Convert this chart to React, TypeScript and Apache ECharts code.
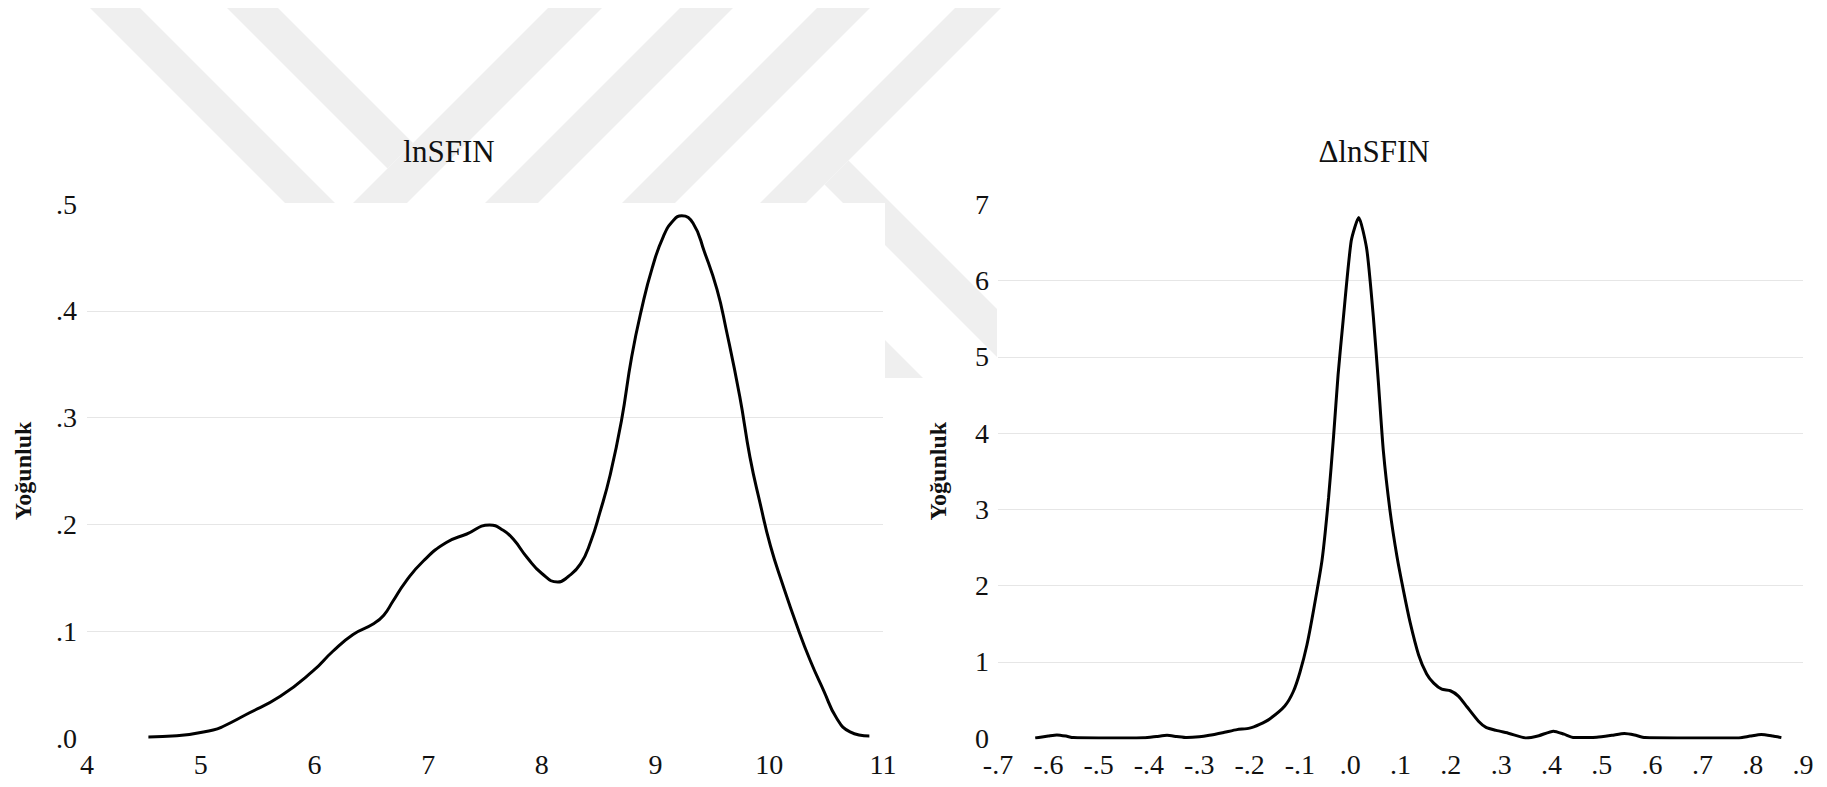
import React, { useEffect, useRef } from "react";
import * as echarts from "echarts";

// lnSFIN kernel density (x, density)
const lnX = [4.54, 4.79, 5.11, 5.2, 5.4, 5.7, 5.99, 6.16, 6.34, 6.52, 6.61, 6.69, 6.8, 6.96, 7.16, 7.34, 7.54, 7.66, 7.75, 7.87, 8.0, 8.14, 8.23, 8.34, 8.43, 8.51, 8.6, 8.7, 8.79, 8.88, 8.97, 9.07, 9.16, 9.23, 9.33, 9.43, 9.54, 9.62, 9.74, 9.83, 9.92, 10.01, 10.12, 10.24, 10.36, 10.48, 10.59, 10.71, 10.88];
const lnY = [0.001, 0.002, 0.0075, 0.011, 0.022, 0.039, 0.063, 0.081, 0.097, 0.107, 0.115, 0.128, 0.146, 0.166, 0.183, 0.191, 0.1995, 0.1945, 0.186, 0.169, 0.154, 0.146, 0.151, 0.163, 0.184, 0.211, 0.246, 0.297, 0.357, 0.403, 0.44, 0.47, 0.485, 0.489, 0.482, 0.455, 0.42, 0.383, 0.32, 0.263, 0.2195, 0.18, 0.143, 0.106, 0.0726, 0.044, 0.019, 0.0057, 0.0018];

// ΔlnSFIN kernel density (x, density)
const dlnX = [-0.626, -0.6, -0.583, -0.565, -0.55, -0.5, -0.45, -0.41, -0.385, -0.364, -0.345, -0.325, -0.3, -0.28, -0.25, -0.225, -0.2, -0.18, -0.16, -0.13, -0.113, -0.1, -0.086, -0.073, -0.056, -0.043, -0.033, -0.024, -0.014, 0.002, 0.017, 0.033, 0.046, 0.056, 0.066, 0.079, 0.093, 0.106, 0.119, 0.136, 0.152, 0.166, 0.182, 0.199, 0.215, 0.232, 0.255, 0.27, 0.29, 0.316, 0.35, 0.375, 0.404, 0.425, 0.445, 0.49, 0.52, 0.545, 0.565, 0.586, 0.65, 0.77, 0.795, 0.817, 0.84, 0.857];
const dlnY = [0, 0.025, 0.04, 0.025, 0.005, 0, 0, 0.003, 0.02, 0.035, 0.02, 0.005, 0.015, 0.035, 0.075, 0.11, 0.13, 0.18, 0.25, 0.42, 0.61, 0.86, 1.22, 1.67, 2.33, 3.15, 3.96, 4.77, 5.48, 6.52, 6.83, 6.41, 5.53, 4.67, 3.76, 2.99, 2.38, 1.93, 1.52, 1.09, 0.84, 0.72, 0.64, 0.62, 0.55, 0.41, 0.22, 0.14, 0.1, 0.06, 0.0, 0.03, 0.09, 0.05, 0.005, 0.01, 0.035, 0.06, 0.04, 0.005, 0, 0, 0.025, 0.045, 0.025, 0.005];

const titles = ["lnSFIN", "\u0394lnSFIN"];
const yName = "Yo\u011funluk";

const W = 1827;
const H = 787;
const FONT = '"Liberation Serif", "Times New Roman", serif';
const WM = "#efefef";

const dotFmt = (v: number) => v.toFixed(1).replace(/^(-?)0\./, "$1.");

function buildOption() {
  const wm = (pts: number[][]) => ({
    type: "polygon",
    silent: true,
    z: -2,
    shape: { points: pts },
    style: { fill: WM },
  });
  const white = (x: number, y: number, w: number, h: number) => ({
    type: "rect",
    silent: true,
    z: -1,
    shape: { x, y, width: w, height: h },
    style: { fill: "#fff" },
  });
  const title = (text: string, x: number) => ({
    type: "text",
    z: 5,
    x,
    y: 151,
    style: {
      text,
      font: `31px ${FONT}`,
      fill: "#111",
      align: "center",
      verticalAlign: "middle",
      textAlign: "center",
      textVerticalAlign: "middle",
    },
  });

  const axisLabel = {
    fontFamily: FONT,
    fontSize: 28,
    color: "#111",
  };
  const splitLine = {
    show: true,
    showMinLine: false,
    showMaxLine: false,
    lineStyle: { color: "#e6e6e6", width: 1 },
  };
  const yNameStyle = {
    fontFamily: FONT,
    fontSize: 24,
    fontWeight: "bold",
    color: "#111",
  };

  return {
    animation: false,
    backgroundColor: "#ffffff",
    graphic: {
      elements: [
        wm([[90, 8], [140, 8], [540, 408], [490, 408]]),
        wm([[227, 8], [278, 8], [413, 143], [387.5, 168.5]]),
        wm([[548, 8], [602, 8], [396, 214], [342, 214]]),
        wm([[680, 8], [733, 8], [527, 214], [474, 214]]),
        wm([[817, 8], [870, 8], [664, 214], [611, 214]]),
        wm([[955, 8], [1001, 8], [795, 214], [749, 214]]),
        wm([[848.5, 160.5], [1248.5, 560.5], [1224.5, 584.5], [824.5, 184.5]]),
        wm([[755, 210], [1145, 600], [1095, 600], [705, 210]]),
        white(0, 203, 885, H - 203),
        white(997, 203, W - 997, H - 203),
        white(885, 378, 112, H - 378),
        title(titles[0], 449),
        title(titles[1], 1374),
      ],
    },
    grid: [
      { left: 87, right: W - 883, top: 204, bottom: 49, containLabel: false },
      { left: 998, right: W - 1803, top: 204.5, bottom: 49, containLabel: false },
    ],
    xAxis: [
      {
        type: "value",
        gridIndex: 0,
        min: 4,
        max: 11,
        interval: 1,
        z: 3,
        axisLine: { show: false },
        axisTick: { show: false },
        splitLine: { show: false },
        axisLabel: { ...axisLabel, margin: 12, showMinLabel: true, showMaxLabel: true },
      },
      {
        type: "value",
        gridIndex: 1,
        min: -0.7,
        max: 0.9,
        interval: 0.1,
        z: 3,
        axisLine: { show: false },
        axisTick: { show: false },
        splitLine: { show: false },
        axisLabel: {
          ...axisLabel,
          margin: 12,
          showMinLabel: true,
          showMaxLabel: true,
          formatter: (v: number) => dotFmt(v),
        },
      },
    ],
    yAxis: [
      {
        type: "value",
        gridIndex: 0,
        min: 0,
        max: 0.5,
        interval: 0.1,
        z: 3,
        name: yName,
        nameLocation: "middle",
        nameGap: 52,
        nameTextStyle: yNameStyle,
        axisLine: { show: false },
        axisTick: { show: false },
        splitLine,
        axisLabel: { ...axisLabel, margin: 10, formatter: (v: number) => dotFmt(v) },
      },
      {
        type: "value",
        gridIndex: 1,
        min: 0,
        max: 7,
        interval: 1,
        z: 3,
        name: yName,
        nameLocation: "middle",
        nameGap: 48,
        nameTextStyle: yNameStyle,
        axisLine: { show: false },
        axisTick: { show: false },
        splitLine,
        axisLabel: { ...axisLabel, margin: 9 },
      },
    ],
    series: [
      {
        type: "line",
        xAxisIndex: 0,
        yAxisIndex: 0,
        z: 5,
        data: lnX.map((x, i) => [x, lnY[i]]),
        showSymbol: false,
        smooth: 0.5,
        lineStyle: { color: "#000", width: 3 },
        silent: true,
      },
      {
        type: "line",
        xAxisIndex: 1,
        yAxisIndex: 1,
        z: 5,
        data: dlnX.map((x, i) => [x, dlnY[i]]),
        showSymbol: false,
        smooth: 0.2,
        lineStyle: { color: "#000", width: 3 },
        silent: true,
      },
    ],
  };
}

export default function App() {
  const ref = useRef<HTMLDivElement>(null);
  useEffect(() => {
    document.body.style.margin = "0";
    if (!ref.current) return;
    const chart = echarts.init(ref.current, null, { renderer: "svg" });
    chart.setOption(buildOption() as any);
    return () => {
      chart.dispose();
    };
  }, []);
  return <div ref={ref} style={{ width: W, height: H, background: "#fff" }} />;
}
